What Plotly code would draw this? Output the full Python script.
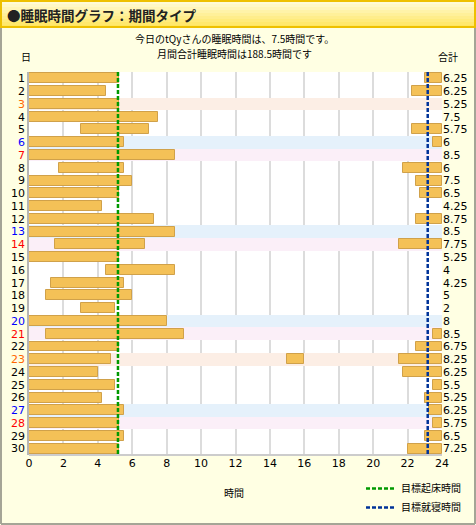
import plotly.graph_objects as go

# 日付ごとの睡眠時間データ
days = list(range(1, 31))
early_start = [0, 0, 0, 0, 3, 0, 0, 1.75, 0, 0,
               0, 0, 0, 1.5, 0, 4.5, 1.25, 1, 3, 0,
               1, 0, 0, 0, 0, 0, 0, 0, 0, 0]
early_end = [5.25, 4.5, 5.25, 7.5, 7, 5.5, 8.5, 5.5, 6, 5.25,
             4.25, 7.25, 8.5, 6.75, 5.25, 8.5, 5.5, 6, 5, 8,
             9, 5.25, 4.75, 4, 5, 4.25, 5.5, 5.25, 5.5, 5.25]
night_start = [23, 22.25, None, None, 22.25, 23.5, None, 21.75, 22.5, 22.75,
               None, 22.5, None, 21.5, None, None, None, None, None, None,
               23.5, 22.5, 21.5, 21.75, 23.5, 23, 23.25, 23.5, 23, 22]
nap_day = [23]
nap_start = [15]
nap_end = [16]
totals = ["6.25", "6.25", "5.25", "7.5", "5.75", "6", "8.5", "6", "7.5", "6.5",
          "4.25", "8.75", "8.5", "7.75", "5.25", "4", "4.25", "5", "2", "8",
          "8.5", "6.75", "8.25", "6.25", "5.5", "5.25", "6.25", "5.75", "6.5", "7.25"]
saturdays = [6, 13, 20, 27]
sundays = [7, 14, 21, 28]
holidays = [3, 23]
wake_goal = 5.17
bed_goal = 23.17

W, H = 476, 525
L, R, T, B = 29, 442, 72, 455


def px(x):
    return (x - L) / (R - L)


def py(y):
    return (B - y) / (B - T)


fig = go.Figure()

# 背景の帯（土日祝）
for dlist, col in [(holidays, "#FCEEE5"), (saturdays, "#E5F1FB"), (sundays, "#FBEFF8")]:
    fig.add_trace(go.Bar(y=dlist, x=[24] * len(dlist), base=[0] * len(dlist),
                         orientation="h", width=1, marker=dict(color=col, line=dict(width=0)),
                         showlegend=False, hoverinfo="skip"))

bar_style = dict(color="#F4C157", line=dict(color="#D0A14A", width=1))

# 朝の睡眠
fig.add_trace(go.Bar(y=days, x=[e - s for s, e in zip(early_start, early_end)], base=early_start,
                     orientation="h", width=0.78, marker=bar_style, showlegend=False))

# 夜の睡眠
nd = [d for d, s in zip(days, night_start) if s is not None]
ns = [s for s in night_start if s is not None]
fig.add_trace(go.Bar(y=nd, x=[24 - s for s in ns], base=ns,
                     orientation="h", width=0.78, marker=bar_style, showlegend=False))

# 昼寝
fig.add_trace(go.Bar(y=nap_day, x=[e - s for s, e in zip(nap_start, nap_end)], base=nap_start,
                     orientation="h", width=0.78, marker=bar_style, showlegend=False))

# 目標ライン
fig.add_trace(go.Scatter(x=[wake_goal, wake_goal], y=[0.5, 30.5], mode="lines",
                         line=dict(color="#009900", width=2.5, dash="4px,2px"),
                         name="目標起床時間", hoverinfo="skip"))
fig.add_trace(go.Scatter(x=[bed_goal, bed_goal], y=[0.5, 30.5], mode="lines",
                         line=dict(color="#003399", width=2.5, dash="4px,2px"),
                         name="目標就寝時間", hoverinfo="skip"))

# 右側の合計用ダミー
fig.add_trace(go.Scatter(x=[0] * 30, y=days, yaxis="y2", mode="markers",
                         marker=dict(opacity=0), showlegend=False, hoverinfo="skip"))

day_colors = {}
for d in holidays:
    day_colors[d] = "#FF6600"
for d in saturdays:
    day_colors[d] = "#0000FF"
for d in sundays:
    day_colors[d] = "#FF0000"
day_text = [f"<span style='color:{day_colors[d]}'>{d}</span>" if d in day_colors else str(d)
            for d in days]

shapes = []
# ヘッダー（グラデーション）
n = 9
for i in range(n):
    t = i / (n - 1)
    r, g, b = 255, int(251 - t * (251 - 230)), int(214 - t * (214 - 95))
    shapes.append(dict(type="rect", xref="paper", yref="paper", layer="below",
                       x0=px(0), x1=px(W), y0=py(1 + i * 3), y1=py(1 + (i + 1) * 3),
                       fillcolor=f"rgb({r},{g},{b})", line=dict(width=0)))
shapes.append(dict(type="rect", xref="paper", yref="paper", layer="below",
                   x0=px(1), x1=px(W - 1), y0=py(1), y1=py(27),
                   line=dict(color="#EEC000", width=2)))
# 外枠（グレー）
for x0, y0, x1, y1 in [(1, 28, 1, H - 1), (W - 1, 28, W - 1, H - 1), (1, H - 1, W - 1, H - 1)]:
    shapes.append(dict(type="line", xref="paper", yref="paper", layer="below",
                       x0=px(x0), x1=px(x1), y0=py(y0), y1=py(y1),
                       line=dict(color="#A5A596", width=2)))
# 下軸線
shapes.append(dict(type="line", xref="paper", yref="paper",
                   x0=0, x1=1, y0=0, y1=0, line=dict(color="#CCCCCC", width=2)))

annotations = [
    dict(text="<b>●睡眠時間グラフ：期間タイプ</b>", xref="paper", yref="paper",
         x=px(5), y=py(15), xanchor="left", yanchor="middle", showarrow=False,
         font=dict(size=13.5, color="#222222")),
    dict(text="今日のtQyさんの睡眠時間は、7.5時間です。", xref="paper", yref="paper",
         x=px(234), y=py(38), xanchor="center", yanchor="middle", showarrow=False,
         font=dict(size=10)),
    dict(text="月間合計睡眠時間は188.5時間です", xref="paper", yref="paper",
         x=px(234), y=py(53), xanchor="center", yanchor="middle", showarrow=False,
         font=dict(size=10)),
    dict(text="日", xref="paper", yref="paper", x=px(26), y=py(57),
         xanchor="center", yanchor="middle", showarrow=False, font=dict(size=10)),
    dict(text="合計", xref="paper", yref="paper", x=px(448), y=py(57),
         xanchor="center", yanchor="middle", showarrow=False, font=dict(size=10)),
    dict(text="時間", xref="paper", yref="paper", x=px(234), y=py(492),
         xanchor="center", yanchor="middle", showarrow=False, font=dict(size=10)),
]

fig.update_layout(
    width=W, height=H,
    margin=dict(l=L, r=W - R, t=T, b=H - B, autoexpand=False),
    paper_bgcolor="#FFFFE3",
    plot_bgcolor="#FFFFFF",
    font=dict(family="Noto Sans CJK JP", size=10, color="#000000"),
    barmode="overlay",
    bargap=0,
    shapes=shapes,
    annotations=annotations,
    xaxis=dict(range=[0, 24], tickmode="array", tickvals=list(range(0, 25, 2)),
               showgrid=True, gridcolor="#DCDCDC", gridwidth=1.5, zeroline=False,
               ticks="", tickfont=dict(family="DejaVu Sans", size=11), automargin=False),
    yaxis=dict(range=[30.5, 0.5], tickmode="array", tickvals=days, ticktext=day_text,
               showgrid=False, zeroline=False, showline=True, linecolor="#B5B5B5",
               linewidth=1.5, ticks="", tickfont=dict(family="DejaVu Sans", size=11),
               automargin=False),
    yaxis2=dict(range=[30.5, 0.5], overlaying="y", side="right", tickmode="array",
                tickvals=days, ticktext=totals, showgrid=False, zeroline=False,
                ticks="", tickfont=dict(family="DejaVu Sans", size=11), automargin=False),
    legend=dict(x=px(466), xanchor="right", y=py(474), yanchor="top",
                bgcolor="rgba(0,0,0,0)", font=dict(size=10), tracegroupgap=0),
    showlegend=True,
)

fig.write_html("out.html", config=dict(displayModeBar=False),
               post_script="document.body.style.margin='0';document.body.style.overflow='hidden';")
